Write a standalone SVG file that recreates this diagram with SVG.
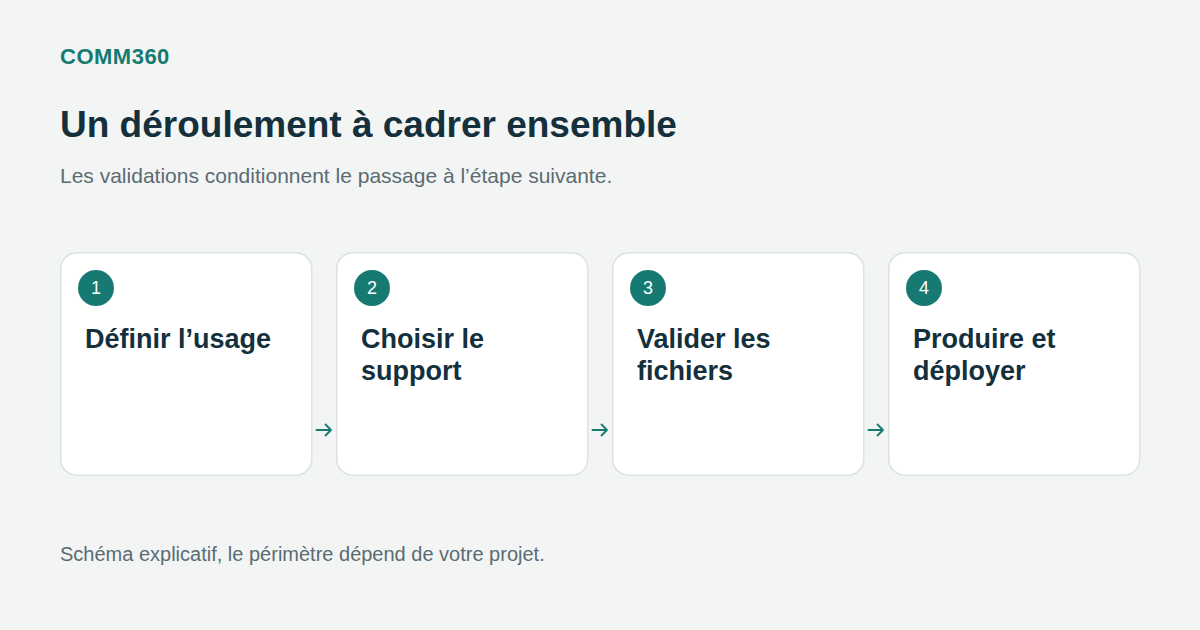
<svg xmlns="http://www.w3.org/2000/svg" width="1200" height="630" viewBox="0 0 1200 630">
<style>
.brand{font-family:"Liberation Sans",Arial,sans-serif;font-weight:700;font-size:22px;letter-spacing:0.5px;fill:#157a72}
.title{font-family:"Liberation Sans",Arial,sans-serif;font-weight:700;font-size:37px;fill:#14303d}
.sub{font-family:"Liberation Sans",Arial,sans-serif;font-size:21px;fill:#5a6b73}
.foot{font-family:"Liberation Sans",Arial,sans-serif;font-size:20px;fill:#5a6b73}
.card{fill:#ffffff;stroke:#dbe3e1;stroke-width:1.5}
.badge{fill:#167a72}
.num{font-family:"Liberation Sans",Arial,sans-serif;font-size:18px;fill:#ffffff;text-anchor:middle}
.label{font-family:"Liberation Sans",Arial,sans-serif;font-weight:700;font-size:27px;fill:#14303d}
.arrow{fill:none;stroke:#167a72;stroke-width:1.8;stroke-linecap:round;stroke-linejoin:round}
</style>
<rect width="1200" height="630" fill="#f3f5f4"/>
<text class="brand" x="60" y="64">COMM360</text>
<text class="title" x="60" y="137">Un déroulement à cadrer ensemble</text>
<text class="sub" x="60" y="183">Les validations conditionnent le passage à l’étape suivante.</text>
<g id="step1">
<rect class="card" x="60.75" y="252.75" width="251" height="222.5" rx="16"/>
<circle class="badge" cx="96" cy="288" r="18"/>
<text class="num" x="96" y="294">1</text>
<text class="label" x="85" y="348">Définir l’usage</text>
</g>
<g id="step2">
<rect class="card" x="336.75" y="252.75" width="251" height="222.5" rx="16"/>
<circle class="badge" cx="372" cy="288" r="18"/>
<text class="num" x="372" y="294">2</text>
<text class="label" x="361" y="348">Choisir le</text>
<text class="label" x="361" y="380">support</text>
</g>
<g id="step3">
<rect class="card" x="612.75" y="252.75" width="251" height="222.5" rx="16"/>
<circle class="badge" cx="648" cy="288" r="18"/>
<text class="num" x="648" y="294">3</text>
<text class="label" x="637" y="348">Valider les</text>
<text class="label" x="637" y="380">fichiers</text>
</g>
<g id="step4">
<rect class="card" x="888.75" y="252.75" width="251" height="222.5" rx="16"/>
<circle class="badge" cx="924" cy="288" r="18"/>
<text class="num" x="924" y="294">4</text>
<text class="label" x="913" y="348">Produire et</text>
<text class="label" x="913" y="380">déployer</text>
</g>
<g id="connectors">
<path class="arrow" d="M316.5 430H331M325.5 424.5L331 430L325.5 435.5"/>
<path class="arrow" d="M592.5 430H607M601.5 424.5L607 430L601.5 435.5"/>
<path class="arrow" d="M868.5 430H883M877.5 424.5L883 430L877.5 435.5"/>
</g>
<text class="foot" x="60" y="561">Schéma explicatif, le périmètre dépend de votre projet.</text>
</svg>
